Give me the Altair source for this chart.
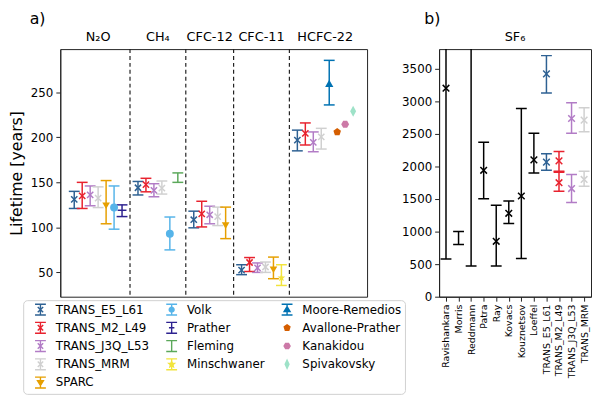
import math
import altair as alt
import pandas as pd

# ---------------- data ----------------
gases = ["N₂O", "CH₄", "CFC-12", "CFC-11", "HCFC-22"]

n2o_models = ["TRANS_E5_L61", "TRANS_M2_L49", "TRANS_J3Q_L53", "TRANS_MRM", "SPARC", "Volk", "Prather"]
n2o_value = [131, 135, 136, 132.5, 124, 122, 119]
n2o_low = [121, 121, 124, 122, 104, 98, 112]
n2o_high = [140, 150, 146, 145, 152, 146, 125]

ch4_models = ["TRANS_E5_L61", "TRANS_M2_L49", "TRANS_J3Q_L53", "TRANS_MRM", "Volk", "Fleming"]
ch4_value = [144, 147.5, 141, 143.5, 93, 155]
ch4_low = [136, 139.5, 134, 137, 75, 150]
ch4_high = [151, 154.5, 148.5, 151.5, 111.5, 160.5]

cfc12_models = ["TRANS_E5_L61", "TRANS_M2_L49", "TRANS_J3Q_L53", "TRANS_MRM", "SPARC"]
cfc12_value = [108.5, 115, 114, 112, 102]
cfc12_low = [99.5, 100.5, 104, 102, 87.5]
cfc12_high = [118, 129, 123.5, 122.5, 122.5]

cfc11_models = ["TRANS_E5_L61", "TRANS_M2_L49", "TRANS_J3Q_L53", "TRANS_MRM", "SPARC", "Minschwaner"]
cfc11_value = [52.5, 61, 55, 56, 53, 44]
cfc11_low = [47.5, 51, 50, 50, 43, 35.5]
cfc11_high = [58.5, 66.5, 60.5, 61.5, 67, 58.5]

hcfc22_models = ["TRANS_E5_L61", "TRANS_M2_L49", "TRANS_J3Q_L53", "TRANS_MRM",
                 "Moore-Remedios", "Avallone-Prather", "Kanakidou", "Spivakovsky"]
hcfc22_value = [197, 204.5, 194.5, 200.5, 260, 206, 214.5, 229]
hcfc22_low = [185, 191.5, 184, 187, 236, None, None, None]
hcfc22_high = [208, 216, 206, 210, 285.5, None, None, None]

sf6_studies = ["Ravishankara", "Morris", "Reddmann", "Patra", "Ray", "Kovacs", "Kouznetsov",
               "Loeffel", "TRANS_E5_L61", "TRANS_M2_L49", "TRANS_J3Q_L53", "TRANS_MRM"]
sf6_entry = ["Ravishankara", "Morris", "Reddmann", "Patra", "Ray", "Kovacs", "Kouznetsov", "Loeffel",
             "TRANS_E5_L61", "TRANS_E5_L61", "TRANS_M2_L49", "TRANS_M2_L49",
             "TRANS_J3Q_L53", "TRANS_J3Q_L53", "TRANS_MRM", "TRANS_MRM"]
sf6_value = [3200, None, None, 1940, 850, 1280, 1545, 2100, 3420, 2065, 2085, 1750, 2735, 1660, 2710, 1800]
sf6_low = [580, 800, 470, 1505, 470, 1125, 585, 1900, 3125, 1940, 1925, 1620, 2510, 1445, 2530, 1695]
sf6_high = [50000, 1000, 10000, 2370, 1405, 1470, 2890, 2510, 3700, 2195, 2230, 1910, 2975, 1875, 2900, 1925]

model_names = ["TRANS_E5_L61", "TRANS_M2_L49", "TRANS_J3Q_L53", "TRANS_MRM", "SPARC", "Volk", "Prather",
               "Fleming", "Minschwaner", "Moore-Remedios", "Avallone-Prather", "Kanakidou", "Spivakovsky"]

# ---------------- styles ----------------
model_colors = {
    "TRANS_E5_L61": "#2e6193", "TRANS_M2_L49": "#e8222e", "TRANS_J3Q_L53": "#b27cc6",
    "TRANS_MRM": "#d0d0d0", "SPARC": "#e69f00", "Volk": "#56b4e9", "Prather": "#2d2290",
    "Fleming": "#5ba85a", "Minschwaner": "#f2e43c", "Moore-Remedios": "#0072b2",
    "Avallone-Prather": "#d55e00", "Kanakidou": "#cc79a7", "Spivakovsky": "#9ee2c8",
}


def poly(n, r, rot=-90.0, r2=None):
    pts = []
    k = n * 2 if r2 else n
    for i in range(k):
        rr = r if (r2 is None or i % 2 == 0) else r2
        a = math.radians(rot + 360.0 * i / k)
        pts.append(f"{rr * math.cos(a):.3f},{rr * math.sin(a):.3f}")
    return "M" + "L".join(pts) + "Z"


X_PATH = "M-1,-1L1,1M-1,1L1,-1"
DASH_PATH = "M-1,0L1,0"
PENT = poly(5, 1)
HEX = poly(6, 1, rot=0)
STAR = poly(5, 1, r2=0.42)
THIN_DIAMOND = "M0,-1L0.55,0L0,1L-0.55,0Z"

marker_kind = {
    "TRANS_E5_L61": "x", "TRANS_M2_L49": "x", "TRANS_J3Q_L53": "x", "TRANS_MRM": "x",
    "SPARC": "tdown", "Volk": "circle", "Prather": "dash", "Minschwaner": "star",
    "Moore-Remedios": "tup", "Avallone-Prather": "pent", "Kanakidou": "hex", "Spivakovsky": "tdia",
}
kind_spec = {
    "x": (X_PATH, 40, False), "dash": (DASH_PATH, 81, False),
    "tdown": ("triangle-down", 60, True), "circle": ("circle", 64, True),
    "star": (STAR, 70, True), "tup": ("triangle-up", 70, True),
    "pent": (PENT, 64, True), "hex": (HEX, 64, True), "tdia": (THIN_DIAMOND, 121, True),
}

EB = "M-1,-1L1,-1M0,-1L0,1M-1,1L1,1"
XS = "M-0.5,-0.5L0.5,0.5M-0.5,0.5L0.5,-0.5"
legend_icon = {
    "TRANS_E5_L61": EB + XS, "TRANS_M2_L49": EB + XS, "TRANS_J3Q_L53": EB + XS, "TRANS_MRM": EB + XS,
    "SPARC": EB + "M-0.55,-0.35L0.55,-0.35L0,0.55Z",
    "Volk": EB + "M0.45,0A0.45,0.45 0 1,1 -0.45,0A0.45,0.45 0 1,1 0.45,0Z",
    "Prather": EB + "M-0.5,0L0.5,0",
    "Fleming": EB,
    "Minschwaner": EB + poly(5, 0.55, r2=0.24),
    "Moore-Remedios": EB + "M0,-0.55L0.55,0.35L-0.55,0.35Z",
    "Avallone-Prather": poly(5, 0.55),
    "Kanakidou": poly(6, 0.55, rot=0),
    "Spivakovsky": "M0,-0.75L0.35,0L0,0.75L-0.35,0Z",
}

# legend is column-major in 3 columns -> convert to row-major order
legend_cols = [model_names[0:5], model_names[5:9], model_names[9:13]]
legend_order = []
for r in range(max(len(c) for c in legend_cols)):
    for c in legend_cols:
        if r < len(c):
            legend_order.append(c[r])

# ---------------- panel a table ----------------
groups = [
    (n2o_models, n2o_value, n2o_low, n2o_high),
    (ch4_models, ch4_value, ch4_low, ch4_high),
    (cfc12_models, cfc12_value, cfc12_low, cfc12_high),
    (cfc11_models, cfc11_value, cfc11_low, cfc11_high),
    (hcfc22_models, hcfc22_value, hcfc22_low, hcfc22_high),
]
rows_a, centers, bounds = [], [], []
pos = 0
for gi, (ms, vals, lows, highs) in enumerate(groups):
    start = pos
    for m, v, lo, hi in zip(ms, vals, lows, highs):
        rows_a.append({"model": m, "pos": pos, "value": v, "low": lo, "high": hi})
        pos += 1
    centers.append((start + pos - 1) / 2)
    if gi < len(groups) - 1:
        bounds.append(pos)
        pos += 1
last = pos - 1
df_a = pd.DataFrame(rows_a)
df_groups = pd.DataFrame({"gas": gases, "center": centers})
df_sep = pd.DataFrame({"b": bounds})

W_A, H = 311, 251
W_B = 154

xs_a = alt.Scale(domain=[-0.05 * last, last * 1.05], nice=False, zero=False)
ys_a = alt.Scale(domain=[23, 298], nice=False, zero=False)
ax_a = alt.Axis(values=[50, 100, 150, 200, 250], title="Lifetime [years]", titlePadding=6)


def Xa(f):
    return alt.X(f, type="quantitative", scale=xs_a, axis=None)


def Ya(f):
    return alt.Y(f, type="quantitative", scale=ys_a, axis=ax_a)


col_a = alt.Color("model:N", scale=alt.Scale(domain=model_names,
                                               range=[model_colors[m] for m in model_names]), legend=None)

base_a = alt.Chart(df_a)
sep = alt.Chart(df_sep).mark_rule(strokeDash=[4, 3], color="#222", strokeWidth=1.2).encode(x=Xa("b"))
glabels = alt.Chart(df_groups).mark_text(fontSize=13, baseline="alphabetic", color="black").encode(
    x=Xa("center"), y=alt.value(-8), text="gas:N")
eb_rule = base_a.mark_rule(strokeWidth=1.5).encode(
    x=Xa("pos"), y=Ya("low"), y2="high:Q", color=col_a).transform_filter("isValid(datum.low)")
cap_lo = base_a.mark_tick(orient="horizontal", size=11, thickness=1.5, opacity=1).encode(
    x=Xa("pos"), y=Ya("low"), color=col_a).transform_filter("isValid(datum.low)")
cap_hi = base_a.mark_tick(orient="horizontal", size=11, thickness=1.5, opacity=1).encode(
    x=Xa("pos"), y=Ya("high"), color=col_a).transform_filter("isValid(datum.high)")

marker_layers = []
for kind, (shape, size, filled) in kind_spec.items():
    members = [m for m in model_names if marker_kind.get(m) == kind]
    marker_layers.append(
        base_a.mark_point(shape=shape, size=size, filled=filled, opacity=1, strokeWidth=1.5)
        .encode(x=Xa("pos"), y=Ya("value"), color=col_a)
        .transform_filter(alt.FieldOneOfPredicate(field="model", oneOf=members))
    )

leg = alt.Legend(title=None, orient="none", legendX=-37.6, legendY=254.5, columns=3,
                 direction="horizontal",
                 symbolSize=121, symbolStrokeWidth=1.4, labelFontSize=12, labelColor="black",
                 labelOffset=9, symbolOffset=8, rowPadding=1.5, columnPadding=8, padding=3,
                 strokeColor="#d0d0d0", cornerRadius=4, fillColor="white")
leg_colors = [model_colors[m] for m in legend_order]
legend_layer = base_a.mark_point(filled=True, opacity=1).encode(
    x=Xa("pos"), y=Ya("value"),
    fill=alt.Fill("model:N", scale=alt.Scale(domain=legend_order, range=leg_colors), legend=leg),
    stroke=alt.Stroke("model:N", scale=alt.Scale(domain=legend_order, range=leg_colors), legend=leg),
    shape=alt.Shape("model:N", scale=alt.Scale(domain=legend_order,
                                               range=[legend_icon[m] for m in legend_order]), legend=leg),
).transform_filter("false")

panel_a = alt.layer(sep, glabels, eb_rule, cap_lo, cap_hi, *marker_layers, legend_layer).properties(
    width=W_A, height=H,
    title=alt.TitleParams("a)", anchor="start", frame="group", dx=-31, fontSize=16, offset=4))

# ---------------- panel b ----------------
df_b = pd.DataFrame({"study": sf6_entry, "value": sf6_value, "low": sf6_low, "high": sf6_high})
sf6_colors = [model_colors.get(s, "black") for s in sf6_studies]
xs_b = alt.Scale(type="point", domain=sf6_studies, padding=0.55)
ax_xb = alt.Axis(title=None, labelAngle=270, labelAlign="right", labelBaseline="middle",
                 labelFontSize=9.5, labelPadding=3)
ys_b = alt.Scale(domain=[0, 3800], nice=False, zero=True)
ax_yb = alt.Axis(values=list(range(0, 3501, 500)), title=None, format="d")
col_b = alt.Color("study:N", scale=alt.Scale(domain=sf6_studies, range=sf6_colors), legend=None)


def Xb():
    return alt.X("study:N", scale=xs_b, axis=ax_xb)


def Yb(f):
    return alt.Y(f, type="quantitative", scale=ys_b, axis=ax_yb)


base_b = alt.Chart(df_b)
b_rule = base_b.mark_rule(strokeWidth=1.5, clip=True).encode(x=Xb(), y=Yb("low"), y2="high:Q", color=col_b)
b_lo = base_b.mark_tick(orient="horizontal", size=11, thickness=1.5, opacity=1, clip=True).encode(
    x=Xb(), y=Yb("low"), color=col_b)
b_hi = base_b.mark_tick(orient="horizontal", size=11, thickness=1.5, opacity=1, clip=True).encode(
    x=Xb(), y=Yb("high"), color=col_b)
b_pts = base_b.mark_point(shape=X_PATH, size=45, filled=False, opacity=1, strokeWidth=1.5).encode(
    x=Xb(), y=Yb("value"), color=col_b).transform_filter("isValid(datum.value)")
b_label = alt.Chart(pd.DataFrame({"gas": ["SF₆"]})).mark_text(
    fontSize=13, baseline="alphabetic", color="black").encode(
    x=alt.value(W_B / 2), y=alt.value(-8), text="gas:N")

panel_b = alt.layer(b_rule, b_lo, b_hi, b_pts, b_label).properties(
    width=W_B, height=H,
    title=alt.TitleParams("b)", anchor="start", frame="group", dx=-15, fontSize=16, offset=4))

chart = (
    alt.hconcat(panel_a, panel_b, spacing=33)
    .resolve_scale(color="independent")
    .properties(padding=0)
    .configure(font="DejaVu Sans")
    .configure_view(stroke="#222", strokeWidth=1)
    .configure_axis(labelFontSize=12, labelColor="black", tickColor="#222", domainColor="#222",
                    tickSize=4.5, labelPadding=3, titleFontSize=16, titleFontWeight="normal",
                    titleColor="black", grid=False)
    .configure_title(fontSize=16, fontWeight="normal", color="black")
)

chart.save("out.html", embed_options={"renderer": "svg", "actions": False})
